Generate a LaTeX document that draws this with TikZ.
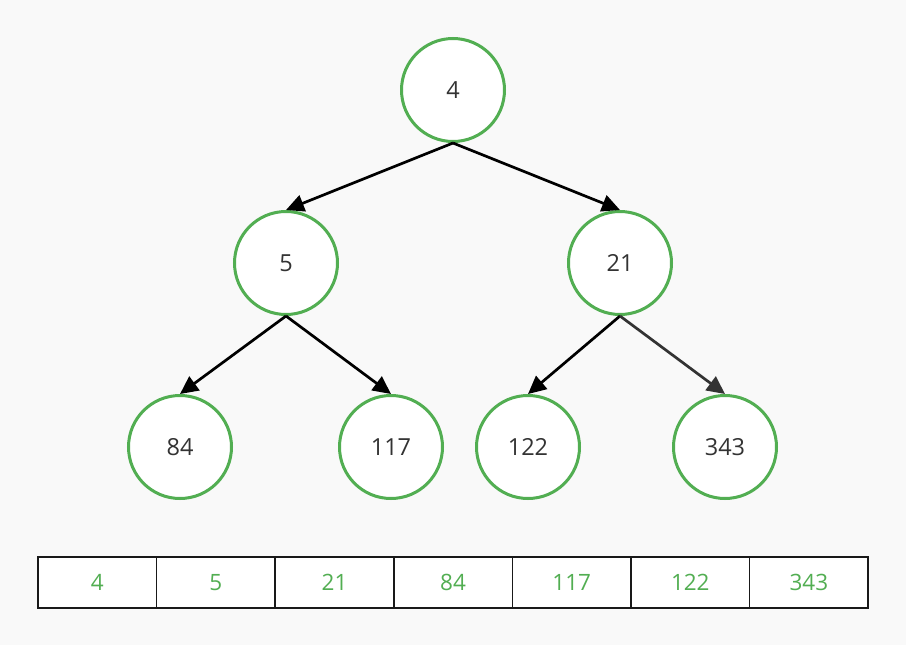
\documentclass[tikz,border=0pt]{standalone}
\usepackage{fontspec}
\setmainfont{Open Sans}
\usetikzlibrary{arrows.meta}
\definecolor{bg}{HTML}{F9F9F9}
\definecolor{gr}{HTML}{52AE52}
\definecolor{txt}{HTML}{333333}
\begin{document}
\begin{tikzpicture}[x=1pt,y=-1pt,
  tnode/.style={circle,draw=gr,fill=white,line width=3pt,minimum size=103pt,inner sep=0pt,text=txt,font=\fontsize{23.5}{26}\selectfont},
  edge/.style={line width=2.7pt,-{Triangle[length=18pt,width=17pt]}},
  cell/.style={draw=black!90,line width=1.6pt,fill=white,minimum width=118.6pt,minimum height=51pt,inner sep=0pt,text=gr,font=\fontsize{22.5}{26}\selectfont}]
\fill[bg] (0,0) rectangle (906,645);
\useasboundingbox (0,0) rectangle (906,645);
\node[tnode] (n4) at (453,90) {4};
\node[tnode] (n5) at (286,263) {5};
\node[tnode] (n21) at (620,263) {21};
\node[tnode] (n84) at (180,447) {84};
\node[tnode] (n117) at (391,447) {117};
\node[tnode] (n122) at (528,447) {122};
\node[tnode] (n343) at (725,447) {343};
\draw[edge] (n4.south) -- (n5.north);
\draw[edge] (n4.south) -- (n21.north);
\draw[edge] (n5.south) -- (n84.north);
\draw[edge] (n5.south) -- (n117.north);
\draw[edge] (n21.south) -- (n122.north);
\draw[edge,draw=txt,fill=txt] (n21.south) -- (n343.north);
\node[cell] (c1) at (97.3,582.5) {4};
\node[cell] (c2) at (215.9,582.5) {5};
\node[cell] (c3) at (334.5,582.5) {21};
\node[cell] (c4) at (453.1,582.5) {84};
\node[cell] (c5) at (571.7,582.5) {117};
\node[cell] (c6) at (690.3,582.5) {122};
\node[cell] (c7) at (808.9,582.5) {343};
\end{tikzpicture}
\end{document}
